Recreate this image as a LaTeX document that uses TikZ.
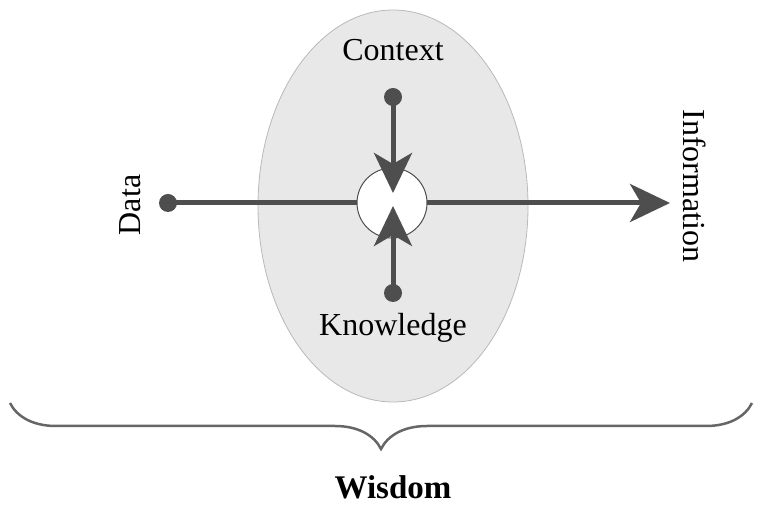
\documentclass[tikz,border=0pt]{standalone}
\usepackage{fontspec}
\setmainfont{Liberation Serif}
\usetikzlibrary{arrows.meta,shapes.geometric,decorations.pathreplacing}
\definecolor{dikwline}{RGB}{78,78,78}
\definecolor{dikwzone}{RGB}{232,232,232}
\begin{document}
\begin{tikzpicture}[x=1pt,y=1pt,font=\fontsize{32}{38}\selectfont,
  dot/.style={circle,fill=dikwline,inner sep=0pt,minimum size=18pt},
  flow/.style={draw=dikwline,line width=5pt,-{Stealth[length=40pt,width=38pt,inset=11pt]}}]
\path[use as bounding box] (0,0) rectangle (762,508);
\node[ellipse,draw=gray!55,fill=dikwzone,line width=.8pt,minimum width=270pt,minimum height=392pt] (zone) at (393,302) {};
\node (context) at (393,458) {Context};
\node (knowledge) at (393,180) {Knowledge};
\node[rotate=90] (data) at (130,303) {Data};
\node[rotate=-90] (information) at (695,322) {Information};
\node[dot] (ddot) at (168,305) {};
\node[dot] (cdot) at (393,411) {};
\node[dot] (kdot) at (393,215) {};
\coordinate (iend) at (670,305);
\coordinate (ctip) at (393,315);
\coordinate (ktip) at (393,302);
\draw[flow] (ddot.center) -- (iend);
\node[circle,draw=dikwline,fill=white,line width=1pt,minimum size=70pt,inner sep=0pt] (hub) at (392,305) {};
\draw[flow] (cdot.center) -- (ctip);
\draw[flow] (kdot.center) -- (ktip);
\coordinate (bl) at (10,105);
\coordinate (br) at (752,105);
\draw[gray!80!black,line width=2.5pt,decorate,decoration={brace,mirror,amplitude=46pt}] (bl) -- (br);
\node[font=\fontsize{33}{40}\selectfont\bfseries] (wisdom) at (393,21) {Wisdom};
\end{tikzpicture}
\end{document}
